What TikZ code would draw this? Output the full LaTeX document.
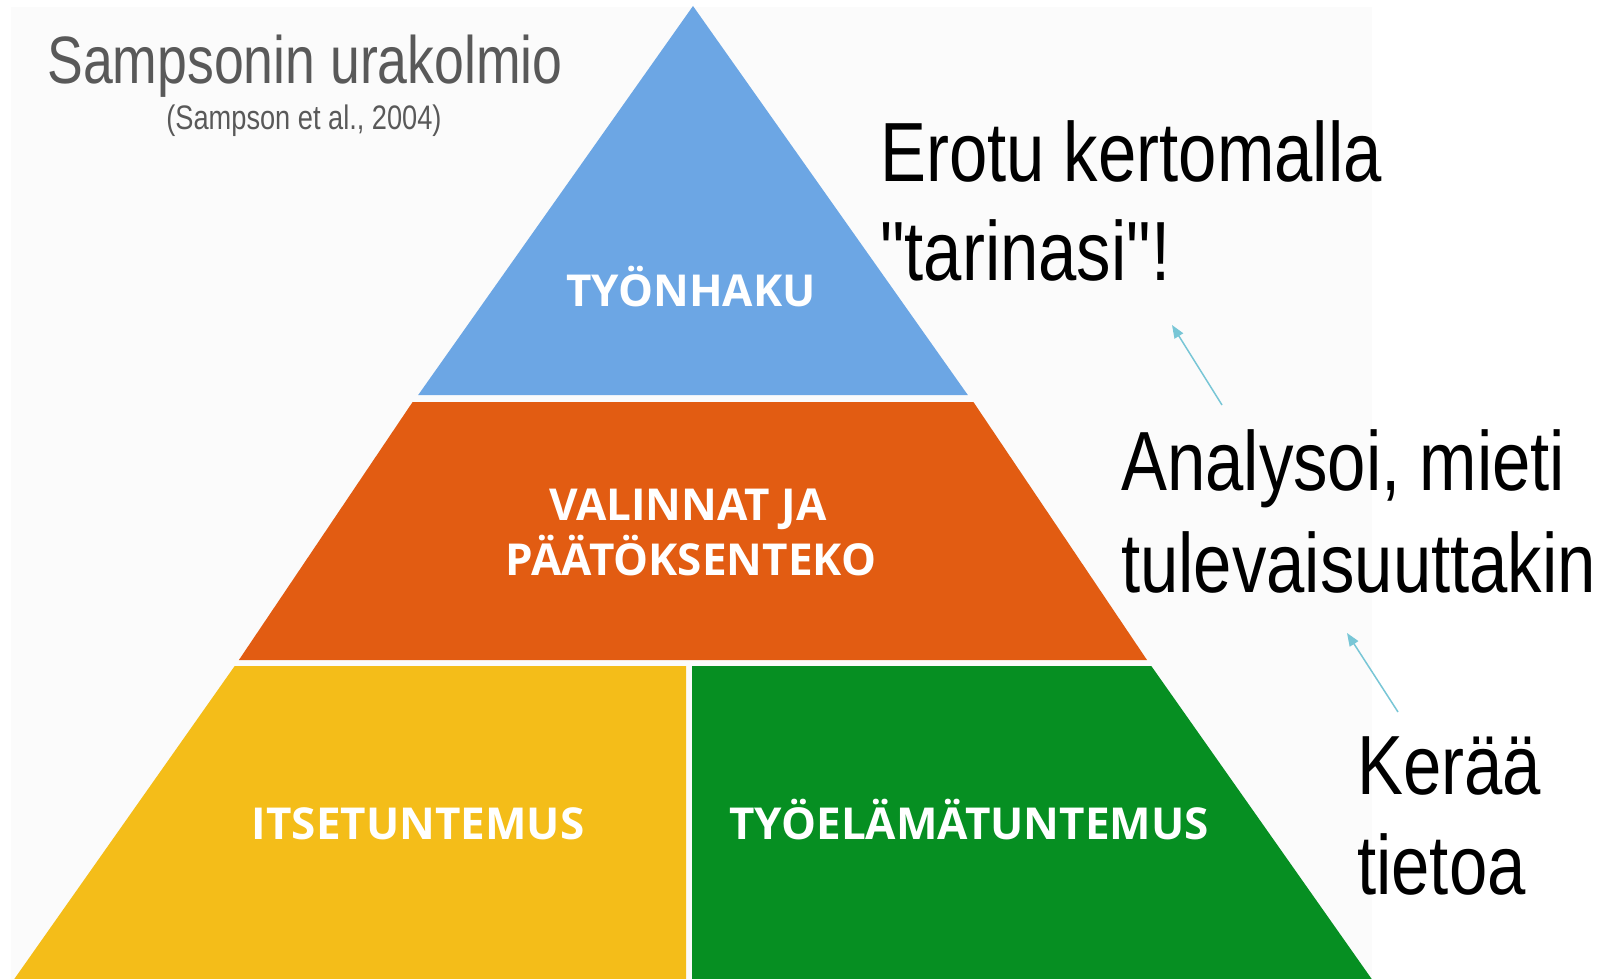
\documentclass[tikz,border=0pt]{standalone}
\usepackage{fontspec}
\usetikzlibrary{arrows.meta}
\newfontfamily\narrowfont[FakeStretch=0.8]{Liberation Sans}
\newfontfamily\widerfont[FakeStretch=0.82]{Liberation Sans}
\newfontfamily\labelfont{Open Sans}
\definecolor{paleback}{RGB}{251,251,251}
\definecolor{pblue}{RGB}{108,166,228}
\definecolor{porange}{RGB}{226,92,18}
\definecolor{pyellow}{RGB}{244,189,25}
\definecolor{pgreen}{RGB}{6,143,34}
\definecolor{titlegray}{RGB}{89,89,89}
\definecolor{arrowblue}{RGB}{120,198,214}
\tikzset{
  bigtext/.style={font=\widerfont\fontsize{84}{98}\selectfont, text=black, inner sep=0pt, anchor=base west},
  pyrlabel/.style={font=\labelfont\bfseries\fontsize{44}{54}\selectfont, text=white, inner sep=0pt, anchor=base},
  hintarrow/.style={draw=arrowblue, line width=1.5pt, -{Triangle[length=13pt,width=10pt]}},
}
\begin{document}
\begin{tikzpicture}[x=1pt,y=-1pt]
\useasboundingbox (0,0) rectangle (1606,979);
\fill[white] (0,0) rectangle (1606,979);
\fill[paleback] (11,7) rectangle (1372,979);
% pyramid: apex (693,6), slope 0.6975
\fill[pblue]   (693,6) -- (967.8,395) -- (418.2,395) -- cycle;
\fill[porange] (973.4,402) -- (1147.0,660) -- (238.9,660) -- (412.6,402) -- cycle;
\fill[pyellow] (234.7,666) -- (686,666) -- (686,979) -- (14.3,979) -- cycle;
\fill[pgreen]  (692,666) -- (1151.3,666) -- (1371.7,979) -- (692,979) -- cycle;
% pyramid labels
\node[pyrlabel] (tyonhaku) at (691,306) {TYÖNHAKU};
\node[pyrlabel] (valinnat) at (688,520) {VALINNAT JA};
\node[pyrlabel] (paatos) at (691,575) {PÄÄTÖKSENTEKO};
\node[pyrlabel] (itse) at (418,839) {ITSETUNTEMUS};
\node[pyrlabel] (tyoelama) at (969,839) {TYÖELÄMÄTUNTEMUS};
% title
\node[font=\narrowfont\fontsize{67}{80}\selectfont, text=titlegray, inner sep=0pt, anchor=base] (title) at (305,84) {Sampsonin urakolmio};
\node[font=\narrowfont\fontsize{34}{40}\selectfont, text=titlegray, inner sep=0pt, anchor=base] (source) at (304,130) {(Sampson et al., 2004)};
% right texts
\node[bigtext] (erotuA) at (880,182) {Erotu kertomalla};
\node[bigtext] (erotuB) at (880,280) {"tarinasi"!};
\node[bigtext] (analA) at (1121,490) {Analysoi, mieti};
\node[bigtext] (analB) at (1121,592) {tulevaisuuttakin};
\node[bigtext] (keraaA) at (1357,794) {Kerää};
\node[bigtext] (keraaB) at (1357,894) {tietoa};
% arrows
\coordinate (a1s) at (1222,405);
\coordinate (a1e) at (1172,325);
\coordinate (a2s) at (1398,712);
\coordinate (a2e) at (1347,633);
\draw[hintarrow] (a1s) -- (a1e);
\draw[hintarrow] (a2s) -- (a2e);
\end{tikzpicture}
\end{document}
